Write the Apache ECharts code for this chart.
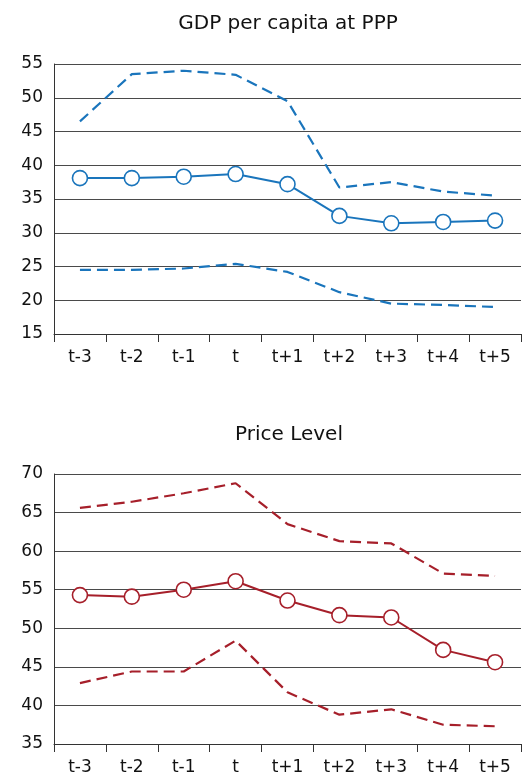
<!DOCTYPE html>
<html>
<head>
<meta charset="utf-8">
<script src="https://cdn.jsdelivr.net/npm/echarts@6/dist/echarts.min.js"></script>
<style>
  html, body { margin: 0; padding: 0; background: #ffffff; }
  #chart { width: 526px; height: 778px; }
</style>
</head>
<body>
<div id="chart"></div>
<script>
// Periods around the event year t
const periods = ['t-3', 't-2', 't-1', 't', 't+1', 't+2', 't+3', 't+4', 't+5'];

// GDP per capita at PPP: mean with upper / lower bands
const gdpMean  = [38.1, 38.1, 38.3, 38.7, 37.2, 32.5, 31.4, 31.6, 31.8];
const gdpUpper = [46.5, 53.5, 54.0, 53.4, 49.5, 36.7, 37.5, 36.1, 35.5];
const gdpLower = [24.5, 24.5, 24.7, 25.4, 24.2, 21.2, 19.5, 19.3, 19.0];

// Price level: mean with upper / lower bands
const priceMean  = [54.3, 54.1, 55.0, 56.1, 53.6, 51.7, 51.4, 47.2, 45.6];
const priceUpper = [65.6, 66.4, 67.5, 68.8, 63.5, 61.3, 61.0, 57.1, 56.8];
const priceLower = [42.9, 44.4, 44.4, 48.4, 41.7, 38.8, 39.5, 37.5, 37.3];

// Axis ranges and tick spacing
const gdpAxis   = { min: 15, max: 55, interval: 5 };
const priceAxis = { min: 35, max: 70, interval: 5 };

const BLUE = '#1a75bc';
const RED = '#a61f2a';
const FONT = '"DejaVu Sans", "Noto Sans", sans-serif';

function xAxis(gridIndex) {
  return {
    type: 'category',
    gridIndex,
    data: periods,
    boundaryGap: true,
    axisLine: { lineStyle: { color: '#333', width: 1 } },
    axisTick: { show: true, length: 8, lineStyle: { color: '#333' } },
    axisLabel: { color: '#111', fontSize: 17, fontFamily: FONT, margin: 15 },
    splitLine: { show: false }
  };
}

function yAxis(gridIndex, range) {
  return {
    type: 'value',
    gridIndex,
    min: range.min,
    max: range.max,
    interval: range.interval,
    axisLine: { show: true, lineStyle: { color: '#333', width: 1 } },
    axisTick: { show: false },
    axisLabel: { color: '#111', fontSize: 17, fontFamily: FONT, margin: 11 },
    splitLine: { show: true, lineStyle: { color: '#4a4a4a', width: 1 } }
  };
}

function meanSeries(idx, data, color) {
  return {
    type: 'line',
    xAxisIndex: idx, yAxisIndex: idx,
    data,
    symbol: 'circle',
    symbolSize: 15,
    showSymbol: true,
    itemStyle: { color: '#ffffff', borderColor: color, borderWidth: 1.6 },
    lineStyle: { color, width: 2 },
    z: 5,
    animation: false
  };
}

function bandSeries(idx, data, color) {
  return {
    type: 'line',
    xAxisIndex: idx, yAxisIndex: idx,
    data,
    symbol: 'none',
    lineStyle: { color, width: 2.2, type: [11, 6] },
    z: 3,
    animation: false
  };
}

const chart = echarts.init(document.getElementById('chart'), null, { renderer: 'canvas' });
chart.setOption({
  animation: false,
  title: [
    { text: 'GDP per capita at PPP', left: 283, top: 9, textAlign: 'center',
      textStyle: { fontSize: 20, fontWeight: 'normal', color: '#111', fontFamily: FONT } },
    { text: 'Price Level', left: 284, top: 420, textAlign: 'center',
      textStyle: { fontSize: 20, fontWeight: 'normal', color: '#111', fontFamily: FONT } }
  ],
  grid: [
    { left: 54, right: 5, top: 64, height: 270 },
    { left: 54, right: 5, top: 474, height: 270 }
  ],
  xAxis: [xAxis(0), xAxis(1)],
  yAxis: [yAxis(0, gdpAxis), yAxis(1, priceAxis)],
  series: [
    bandSeries(0, gdpUpper, BLUE),
    bandSeries(0, gdpLower, BLUE),
    meanSeries(0, gdpMean, BLUE),
    bandSeries(1, priceUpper, RED),
    bandSeries(1, priceLower, RED),
    meanSeries(1, priceMean, RED)
  ]
});
</script>
</body>
</html>
